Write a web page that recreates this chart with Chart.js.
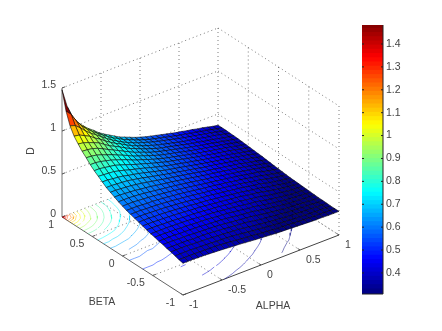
<!DOCTYPE html>
<html>
<head>
<meta charset="utf-8">
<script src="https://cdn.jsdelivr.net/npm/chart.js@4"></script>
<style>
    body { margin: 0; background: #fff; }
    canvas { display: block; }
</style>
</head>
<body>
<canvas id="surface_chart" width="442" height="331"></canvas>
<script>
// grid the surface was read on
const alphaValues = [-1,-0.933,-0.867,-0.8,-0.733,-0.667,-0.6,-0.533,-0.467,-0.4,-0.333,-0.267,-0.2,-0.133,-0.067,0,0.067,0.133,0.2,0.267,0.333,0.4,0.467,0.533,0.6,0.667,0.733,0.8,0.867,0.933,1];
const betaValues = [1,0.933,0.867,0.8,0.733,0.667,0.6,0.533,0.467,0.4,0.333,0.267,0.2,0.133,0.067,0,-0.067,-0.133,-0.2,-0.267,-0.333,-0.4,-0.467,-0.533,-0.6,-0.667,-0.733,-0.8,-0.867,-0.933,-1];

// D, one row per beta value
const dValues = [
[1.48,1.26,1.12,1.03,.97,.915,.87,.82,.78,.745,.71,.675,.65,.625,.6,.58,.56,.545,.53,.515,.5,.485,.47,.46,.445,.435,.42,.41,.395,.38,.37],
[1.26,1.2,1.1,1.02,.96,.91,.865,.82,.78,.74,.71,.675,.65,.625,.6,.58,.56,.545,.53,.515,.5,.485,.47,.46,.445,.435,.42,.41,.395,.38,.37],
[1.12,1.1,1.05,.99,.94,.9,.855,.81,.77,.735,.7,.67,.645,.62,.6,.58,.56,.545,.53,.515,.5,.485,.47,.46,.445,.435,.42,.41,.395,.38,.37],
[1.03,1.02,.99,.96,.915,.88,.835,.795,.76,.73,.695,.665,.64,.615,.595,.575,.555,.54,.525,.51,.495,.48,.47,.455,.445,.43,.42,.41,.395,.38,.367],
[.97,.96,.94,.915,.89,.85,.81,.78,.75,.715,.685,.66,.634,.61,.59,.57,.55,.538,.523,.509,.494,.479,.466,.455,.44,.43,.418,.405,.39,.378,.365],
[.915,.91,.9,.88,.85,.82,.79,.76,.73,.7,.67,.648,.625,.6,.583,.565,.55,.535,.52,.505,.49,.476,.464,.45,.44,.428,.413,.403,.388,.376,.362],
[.87,.865,.855,.835,.81,.79,.762,.737,.71,.68,.658,.637,.615,.594,.575,.558,.544,.53,.516,.5,.487,.472,.462,.449,.437,.424,.413,.4,.385,.374,.358],
[.82,.82,.81,.795,.78,.76,.737,.715,.688,.665,.645,.624,.603,.585,.567,.552,.538,.524,.51,.496,.482,.468,.459,.444,.435,.42,.411,.397,.382,.372,.354],
[.78,.78,.77,.76,.75,.73,.71,.688,.667,.649,.63,.61,.592,.575,.558,.545,.532,.518,.504,.49,.477,.465,.454,.44,.43,.417,.408,.393,.378,.368,.35],
[.745,.74,.735,.73,.715,.7,.68,.665,.649,.632,.614,.596,.58,.564,.55,.537,.524,.51,.498,.485,.471,.461,.449,.438,.425,.414,.402,.388,.376,.363,.345],
[.71,.71,.7,.695,.685,.67,.658,.645,.63,.614,.597,.583,.567,.554,.542,.53,.517,.504,.491,.478,.466,.455,.443,.434,.42,.411,.398,.384,.373,.357,.34],
[.675,.675,.67,.665,.66,.648,.637,.624,.61,.596,.583,.569,.556,.545,.533,.52,.509,.496,.484,.47,.462,.45,.439,.428,.416,.406,.392,.378,.368,.35,.337],
[.65,.65,.645,.64,.634,.625,.615,.603,.592,.58,.567,.556,.546,.535,.523,.512,.5,.488,.474,.465,.454,.442,.434,.421,.412,.399,.385,.374,.361,.344,.33],
[.625,.625,.62,.615,.61,.6,.594,.585,.575,.564,.554,.545,.535,.524,.513,.502,.49,.479,.468,.46,.448,.438,.427,.416,.406,.392,.379,.37,.353,.338,.325],
[.6,.6,.6,.595,.59,.583,.575,.567,.558,.55,.542,.533,.523,.513,.503,.492,.481,.47,.462,.451,.439,.431,.419,.411,.398,.385,.375,.362,.345,.334,.319],
[.58,.58,.58,.575,.57,.565,.558,.552,.545,.537,.53,.52,.512,.502,.492,.482,.471,.463,.454,.442,.435,.423,.414,.402,.39,.378,.37,.352,.338,.326,.315],
[.56,.56,.56,.555,.55,.55,.544,.538,.532,.524,.517,.509,.5,.49,.481,.471,.464,.456,.444,.437,.426,.416,.406,.395,.382,.373,.36,.344,.332,.319,.31],
[.545,.545,.545,.54,.538,.535,.53,.524,.518,.51,.504,.496,.488,.479,.47,.463,.456,.445,.437,.428,.417,.41,.398,.386,.376,.365,.349,.337,.325,.314,.305],
[.53,.53,.53,.525,.523,.52,.516,.51,.504,.498,.491,.484,.474,.468,.462,.454,.444,.437,.428,.418,.411,.4,.388,.377,.37,.354,.34,.328,.318,.309,.3],
[.515,.515,.515,.51,.509,.505,.5,.496,.49,.485,.478,.47,.465,.46,.451,.442,.437,.428,.418,.411,.402,.39,.379,.372,.358,.344,.334,.32,.312,.303,.297],
[.5,.5,.5,.495,.494,.49,.487,.482,.477,.471,.466,.462,.454,.448,.439,.435,.426,.417,.411,.402,.391,.38,.373,.36,.346,.335,.324,.314,.306,.299,.295],
[.485,.485,.485,.48,.479,.476,.472,.468,.465,.461,.455,.45,.442,.438,.431,.423,.416,.41,.4,.39,.38,.373,.362,.347,.337,.326,.316,.308,.3,.296,.292],
[.47,.47,.47,.47,.466,.464,.462,.459,.454,.449,.443,.439,.434,.427,.419,.414,.406,.398,.388,.379,.373,.362,.348,.337,.328,.318,.31,.301,.297,.293,.289],
[.46,.46,.46,.455,.455,.45,.449,.444,.44,.438,.434,.428,.421,.416,.411,.402,.395,.386,.377,.372,.36,.347,.337,.328,.318,.31,.303,.298,.294,.29,.286],
[.445,.445,.445,.445,.44,.44,.437,.435,.43,.425,.42,.416,.412,.406,.398,.39,.382,.376,.37,.358,.346,.337,.328,.318,.31,.303,.298,.294,.29,.287,.283],
[.435,.435,.435,.43,.43,.428,.424,.42,.417,.414,.411,.406,.399,.392,.385,.378,.373,.365,.354,.344,.335,.326,.318,.31,.303,.298,.295,.291,.287,.284,.28],
[.42,.42,.42,.42,.418,.413,.413,.411,.408,.402,.398,.392,.385,.379,.375,.37,.36,.349,.34,.334,.324,.316,.31,.303,.298,.295,.291,.288,.284,.28,.28],
[.41,.41,.41,.41,.405,.403,.4,.397,.393,.388,.384,.378,.374,.37,.362,.352,.344,.337,.328,.32,.314,.308,.301,.298,.294,.291,.288,.284,.28,.28,.278],
[.395,.395,.395,.395,.39,.388,.385,.382,.378,.376,.373,.368,.361,.353,.345,.338,.332,.325,.318,.312,.306,.3,.297,.294,.29,.287,.284,.28,.28,.278,.275],
[.38,.38,.38,.38,.378,.376,.374,.372,.368,.363,.357,.35,.344,.338,.334,.326,.319,.314,.309,.303,.299,.296,.293,.29,.287,.284,.28,.28,.278,.275,.275],
[.37,.37,.37,.367,.365,.362,.358,.354,.35,.345,.34,.337,.33,.325,.319,.315,.31,.305,.3,.297,.295,.292,.289,.286,.283,.28,.28,.278,.275,.275,.275]
];

const contourLevels = [0.3,0.35,0.4,0.45,0.5,0.55,0.6,0.65,0.7,0.75,0.8,0.85,0.9,0.95,1,1.05,1.1,1.15,1.2,1.25,1.3,1.35,1.4,1.45];
const alphaTicks = [-1,-0.5,0,0.5,1];
const betaTicks = [1,0.5,0,-0.5,-1];
const zTicks = [0,0.5,1,1.5];
const colorbarTicks = [0.4,0.5,0.6,0.7,0.8,0.9,1,1.1,1.2,1.3,1.4];
const colorMin = 0.308;
const colorMax = 1.483;

// view of the box: screen position of the corner alpha=-1 beta=-1 and the axis directions
const project = (a, b, z) => ({
    x: 183 + 78 * (a + 1) - 60.5 * (b + 1),
    y: 295 - 30 * (a + 1) - 39 * (b + 1) - 86 * z
});

jet = (t) => {
    t = Math.min(1, Math.max(0, t));
    const ch = (c) => Math.round(255 * Math.min(1, Math.max(0, 1.5 - Math.abs(4 * t - c))));
    return [ch(3), ch(2), ch(1)];
};
const jetColor = (v, alpha) => {
    const c = jet((v - colorMin) / (colorMax - colorMin));
    return "rgba(" + c[0] + "," + c[1] + "," + c[2] + "," + (alpha === undefined ? 1 : alpha) + ")";
};

const lineSet = (points, color, width, dash, yAxisID) => ({
    data: points,
    showLine: true,
    parsing: false,
    normalized: false,
    pointRadius: 0,
    fill: false,
    tension: 0,
    clip: false,
    borderColor: color,
    borderWidth: width,
    borderDash: dash || [],
    yAxisID: yAxisID || "y"
});

// first dataset ends up on top, so surface goes first, nearest cell first
const datasets = [];

for (let j = betaValues.length - 2; j >= 0; j--) {
    for (let i = 0; i < alphaValues.length - 1; i++) {
        const a0 = alphaValues[i], a1 = alphaValues[i + 1];
        const b0 = betaValues[j], b1 = betaValues[j + 1];
        const d00 = dValues[j][i], d01 = dValues[j][i + 1];
        const d10 = dValues[j + 1][i], d11 = dValues[j + 1][i + 1];
        const cell = lineSet([
            project(a0, b0, d00), project(a1, b0, d01),
            project(a1, b1, d11), project(a0, b1, d10), project(a0, b0, d00)
        ], "rgba(0,0,0,0.7)", 0.8);
        cell.fill = "shape";
        // flat shaded from the first corner of the cell
        cell.backgroundColor = jetColor(d00);
        datasets.push(cell);
    }
}

// contour lines on the floor, marching squares over dValues
const cross = (p, q, dp, dq, level) => {
    const t = (level - dp) / (dq - dp);
    return project(p[0] + (q[0] - p[0]) * t, p[1] + (q[1] - p[1]) * t, 0);
};
contourLevels.forEach(level => {
    const pts = [];
    for (let j = 0; j < betaValues.length - 1; j++) {
        for (let i = 0; i < alphaValues.length - 1; i++) {
            const c = [[alphaValues[i], betaValues[j]], [alphaValues[i + 1], betaValues[j]],
                       [alphaValues[i + 1], betaValues[j + 1]], [alphaValues[i], betaValues[j + 1]]];
            const d = [dValues[j][i], dValues[j][i + 1], dValues[j + 1][i + 1], dValues[j + 1][i]];
            const hits = [];
            for (let k = 0; k < 4; k++) {
                const n = (k + 1) % 4;
                if ((d[k] < level) !== (d[n] < level)) hits.push(cross(c[k], c[n], d[k], d[n], level));
            }
            if (hits.length >= 2) pts.push(hits[0], hits[1], { x: NaN, y: NaN });
        }
    }
    datasets.push(lineSet(pts, jetColor(level, 0.55), 0.9));
});

// axis lines and small ticks
datasets.push(lineSet([project(-1, 1, 0), project(-1, 1, 1.5)], "#777", 1));
datasets.push(lineSet([project(-1, 1, 0), project(-1, -1, 0)], "#666", 1));
datasets.push(lineSet([project(-1, -1, 0), project(1, -1, 0)], "#444", 1));
betaTicks.forEach(b => datasets.push(lineSet([project(-1, b, 0), project(-0.96, b, 0)], "#555", 1)));
alphaTicks.forEach(a => datasets.push(lineSet([project(a, -1, 0), project(a, -0.96, 0)], "#555", 1)));
zTicks.forEach(z => datasets.push(lineSet([project(-1, 1, z), project(-0.96, 1, z)], "#555", 1)));

// dotted box grid
const dotted = (p, q) => datasets.push(lineSet([p, q], "rgba(80,80,80,0.75)", 1, [1, 3]));
alphaTicks.forEach(a => {
    if (a > -1) {
        dotted(project(a, 1, 0), project(a, 1, 1.5));
        dotted(project(a, -1, 0), project(a, 1, 0));
    }
});
betaTicks.forEach(b => {
    if (b < 1) dotted(project(1, b, 0), project(1, b, 1.5));
    if (b > -1 ) dotted(project(-1, b, 0), project(1, b, 0));
});
zTicks.forEach(z => {
    if (z > 0) dotted(project(-1, 1, z), project(1, 1, z));
    dotted(project(1, 1, z), project(1, -1, z));
});

// colorbar, 64 jet steps on its own value scale
const barLeft = 362, barRight = 383, barMid = (barLeft + barRight) / 2;
const frame = [[barLeft, colorMin], [barRight, colorMin], [barRight, colorMax], [barLeft, colorMax], [barLeft, colorMin]];
datasets.push(lineSet(frame.map(p => ({ x: p[0], y: p[1] })), "#222", 1, [], "cb"));
colorbarTicks.forEach(v => {
    datasets.push(lineSet([{ x: barLeft, y: v }, { x: barLeft + 2, y: v }], "#222", 1, [], "cb"));
    datasets.push(lineSet([{ x: barRight - 2, y: v }, { x: barRight, y: v }], "#222", 1, [], "cb"));
});
for (let n = 0; n < 64; n++) {
    const lo = colorMin + (colorMax - colorMin) * n / 64;
    const hi = colorMin + (colorMax - colorMin) * (n + 1) / 64;
    // runs a little past its top so the steps leave no seams
    datasets.push(lineSet([{ x: barMid, y: lo }, { x: barMid, y: Math.min(colorMax, hi + 0.006) }], jetColor((lo + hi) / 2), barRight - barLeft, [], "cb"));
}

const axisText = {
    id: "axisText",
    afterDraw(chart) {
        const ctx = chart.ctx;
        const sx = chart.scales.x, sy = chart.scales.y;
        const put = (text, p, dx, dy, align) => {
            ctx.textAlign = align;
            ctx.fillText(text, sx.getPixelForValue(p.x) + dx, sy.getPixelForValue(p.y) + dy);
        };
        ctx.save();
        ctx.font = "10.5px 'Liberation Sans'";
        ctx.fillStyle = "#444";
        ctx.textBaseline = "middle";
        zTicks.forEach(z => put(String(z), project(-1, 1, z), -6, -3, "right"));
        betaTicks.forEach(b => put(String(b), project(-1, b, 0), -8, 8, "right"));
        alphaTicks.forEach(a => put(String(a), project(a, -1, 0), 6, 10, "left"));
        ctx.textAlign = "center";
        ctx.fillText("BETA", 102, 302);
        ctx.fillText("ALPHA", 273, 306);
        ctx.translate(31, 151);
        ctx.rotate(-Math.PI / 2);
        ctx.fillText("D", 0, 0);
        ctx.restore();
    }
};

new Chart("surface_chart", {
    type: "scatter",
    data: { datasets: datasets },
    plugins: [axisText],
    options: {
        responsive: false,
        animation: false,
        events: [],
        layout: { padding: { top: 25, bottom: 37, left: 0, right: 0 } },
        plugins: {
            legend: { display: false },
            tooltip: { enabled: false }
        },
        scales: {
            // these two are plain screen units for the projected box
            x: { type: "linear", display: false, min: 0, max: 383 },
            y: { type: "linear", display: false, reverse: true, min: 25, max: 294 },
            cb: {
                type: "linear",
                position: "right",
                min: colorMin,
                max: colorMax,
                afterFit: (scale) => { scale.width = 59; },
                border: { display: false },
                grid: { display: false, drawTicks: false },
                ticks: {
                    stepSize: 0.1,
                    includeBounds: false,
                    padding: 3,
                    color: "#444",
                    font: { family: "'Liberation Sans'", size: 10.5 },
                    callback: (v) => String(+v.toFixed(1))
                }
            }
        }
    }
});
</script>
</body>
</html>
